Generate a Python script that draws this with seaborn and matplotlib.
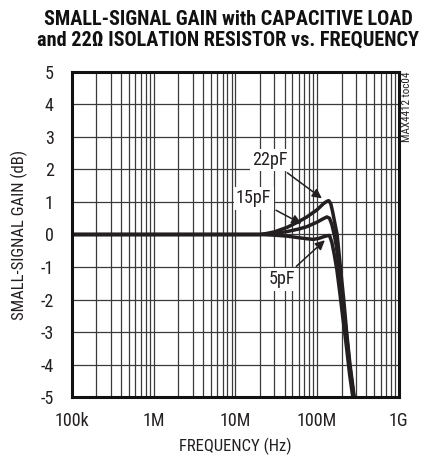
import numpy as np
import pandas as pd
import seaborn as sns
import matplotlib.pyplot as plt
from matplotlib import font_manager
from matplotlib.font_manager import FontProperties
from matplotlib.ticker import FixedLocator, LogLocator, NullFormatter

# curve data (frequency in Hz, gain in dB)
freq_22 = [1e5, 1e6, 1e7, 2e7, 2.4e7, 3e7, 4.3e7, 6e7, 7.5e7, 1e8, 1.2e8, 1.32e8, 1.39e8,
           1.47e8, 1.55e8, 1.65e8, 1.76e8, 1.93e8, 2.12e8, 2.3e8, 2.53e8, 2.75e8, 2.95e8]
gain_22 = [0, 0, 0, 0, 0.03, 0.08, 0.22, 0.4, 0.54, 0.76, 0.95, 1.02, 1.04,
           0.95, 0.7, 0.35, 0.0, -1.0, -2.0, -3.0, -4.0, -4.7, -5.3]

freq_15 = [1e5, 1e6, 1e7, 2e7, 3e7, 4.3e7, 6e7, 7.5e7, 1e8, 1.2e8, 1.32e8, 1.42e8,
           1.52e8, 1.62e8, 1.72e8, 1.9e8, 2.1e8, 2.3e8, 2.5e8, 2.72e8, 2.92e8]
gain_15 = [0, 0, 0, 0, 0.03, 0.09, 0.17, 0.24, 0.38, 0.49, 0.54, 0.5,
           0.3, 0.0, -0.35, -1.2, -2.2, -3.1, -4.0, -4.7, -5.3]

freq_5 = [1e5, 1e6, 1e7, 2e7, 3e7, 4.3e7, 6e7, 7.5e7, 9e7, 1.05e8, 1.2e8, 1.32e8, 1.42e8,
          1.52e8, 1.62e8, 1.75e8, 1.9e8, 2.1e8, 2.3e8, 2.5e8, 2.7e8, 2.9e8]
gain_5 = [0, 0, 0, 0, -0.02, -0.05, -0.1, -0.13, -0.15, -0.12, -0.07, -0.04, -0.03,
          -0.25, -0.6, -1.1, -1.8, -2.7, -3.5, -4.3, -4.9, -5.4]

x_ticks = [1e5, 1e6, 1e7, 1e8, 1e9]
x_labels = ['100k', '1M', '10M', '100M', '1G']
y_ticks = [-5, -4, -3, -2, -1, 0, 1, 2, 3, 4, 5]

df = pd.concat([
    pd.DataFrame({'freq': freq_22, 'gain': gain_22, 'cap': '22pF'}),
    pd.DataFrame({'freq': freq_15, 'gain': gain_15, 'cap': '15pF'}),
    pd.DataFrame({'freq': freq_5, 'gain': gain_5, 'cap': '5pF'}),
])

sns.set_style('white')
plt.rcParams['axes.unicode_minus'] = False


# look for a narrow / condensed face, the original uses a condensed grotesque
def find_font(weights):
    files = [f.fname for f in font_manager.fontManager.ttflist]
    prefs = ['LiberationSansNarrow', 'RobotoCondensed', 'DejaVuSansCondensed']
    for p in prefs:
        for w in weights:
            for fn in files:
                base = fn.split('/')[-1]
                if not base.startswith(p) or 'Italic' in base or 'Oblique' in base:
                    continue
                stem = base.rsplit('.', 1)[0]
                tail = stem[len(p):].lstrip('-')
                if tail == w or (w == 'Regular' and tail == ''):
                    return fn
    return None


reg_file = find_font(['Regular'])
bold_file = find_font(['Bold'])
black_file = find_font(['ExtraBold', 'Black', 'Bold'])


def fp(size, fn):
    if fn is None:
        return FontProperties(family='DejaVu Sans', size=size * 0.85,
                              weight='normal' if fn is reg_file else 'bold')
    return FontProperties(fname=fn, size=size)


fig = plt.figure(figsize=(4.33, 4.58), dpi=100)
ax = fig.add_axes([0.166, 0.133, 0.755, 0.710])

sns.lineplot(data=df, x='freq', y='gain', hue='cap', palette=['#231f20'] * 3,
             linewidth=2.5, legend=False, ax=ax, sort=False, estimator=None)

ax.set_xscale('log')
ax.set_xlim(1e5, 1e9)
ax.set_ylim(-5, 5)
ax.xaxis.set_major_locator(FixedLocator(x_ticks))
ax.set_xticklabels(x_labels)
ax.xaxis.set_minor_locator(LogLocator(base=10, subs=np.arange(2, 10)))
ax.xaxis.set_minor_formatter(NullFormatter())
ax.set_yticks(y_ticks)
ax.set_yticklabels([str(v) for v in y_ticks])
ax.grid(True, which='both', axis='x', color='#3a3a3a', linewidth=0.9)
ax.grid(True, which='major', axis='y', color='#3a3a3a', linewidth=0.9)
ax.tick_params(axis='both', which='both', length=0, colors='#231f20')
ax.tick_params(axis='y', pad=13)
ax.tick_params(axis='x', pad=11)
for lab in ax.get_xticklabels() + ax.get_yticklabels():
    lab.set_fontproperties(fp(13, reg_file))
for s in ax.spines.values():
    s.set_linewidth(2.2)
    s.set_color('#111111')

ax.set_xlabel('FREQUENCY (Hz)', fontproperties=fp(12, reg_file), color='#231f20', labelpad=5)
ax.set_ylabel('SMALL-SIGNAL GAIN (dB)', fontproperties=fp(12, reg_file), color='#231f20',
              labelpad=9)

fig.suptitle('SMALL-SIGNAL GAIN with CAPACITIVE LOAD\nand 22\u03a9 ISOLATION RESISTOR vs. FREQUENCY',
             x=0.527, y=0.978, fontproperties=fp(14.6, black_file), linespacing=1.08,
             color='#111111')

arrow = dict(arrowstyle='-|>', color='#231f20', lw=1.1, mutation_scale=14)
box = dict(facecolor='white', edgecolor='none', pad=1.5)
ax.annotate('22pF', xy=(1.22e8, 1.06), xytext=(2.66e7, 2.29), fontproperties=fp(13, reg_file),
            ha='center', va='center', arrowprops=arrow, bbox=box, color='#231f20')
ax.annotate('15pF', xy=(6.9e7, 0.29), xytext=(1.68e7, 1.11), fontproperties=fp(13, reg_file),
            ha='center', va='center', arrowprops=arrow, bbox=box, color='#231f20')
ax.annotate('5pF', xy=(1.32e8, -0.12), xytext=(3.73e7, -1.38), fontproperties=fp(13, reg_file),
            ha='center', va='center', arrowprops=arrow, bbox=box, color='#231f20')

fig.text(0.940, 0.843, 'MAX4412 toc04', rotation=90, fontproperties=fp(8, reg_file),
         ha='center', va='top', color='#231f20')

fig.savefig('out.png', dpi=100)
